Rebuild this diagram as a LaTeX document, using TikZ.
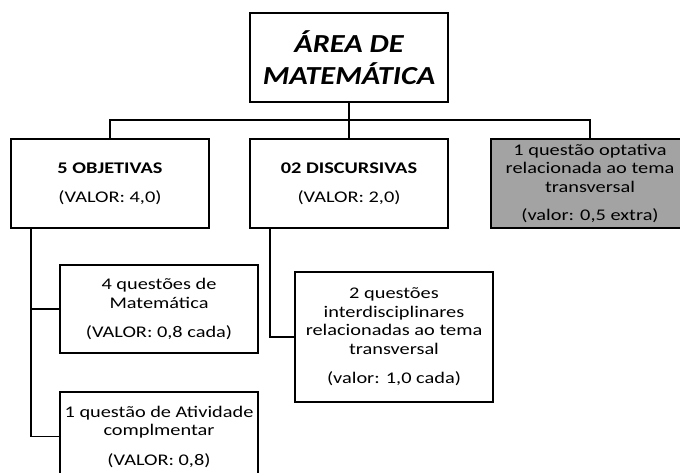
\documentclass[tikz,border=0pt]{standalone}
\usepackage{fontspec}
\setmainfont[FakeStretch=1.25]{Carlito}
\newfontfamily\titulofont[FakeStretch=1.17]{Carlito}
\begin{document}
\begin{tikzpicture}[x=0.75pt,y=-0.75pt,line width=1.4pt,
  caixa/.style={draw=black,fill=white,align=center,inner sep=2pt,
    minimum width=148.5pt,minimum height=66.75pt,
    font=\fontsize{12.2pt}{14pt}\selectfont},
  cinza/.style={caixa,fill=black!36}]
  \useasboundingbox (0,0) rectangle (680,473);
  \node [caixa,font=\titulofont\fontsize{19.5pt}{24pt}\selectfont\bfseries\itshape] (titulo) at (349,57.5) {ÁREA DE\\MATEMÁTICA};
  \node [caixa] (objetivas) at (110,183.5) {\textbf{5 OBJETIVAS}\\[8pt](VALOR: 4,0)};
  \node [caixa] (discursivas) at (349,183.5) {\textbf{02 DISCURSIVAS}\\[8pt](VALOR: 2,0)};
  \node [cinza] (optativa) at (590,183.5) {1 questão optativa\\relacionada ao tema\\transversal\\[7pt](valor: 0,5 extra)};
  \node [caixa,minimum height=66pt] (matematica) at (159,309) {4 questões de\\Matemática\\[8pt](VALOR: 0,8 cada)};
  \node [caixa,minimum height=97.5pt] (interdisc) at (394,337) {2 questões\\interdisciplinares\\relacionadas ao tema\\transversal\\[8pt](valor: 1,0 cada)};
  \node [caixa] (atividade) at (159,436.5) {1 questão de Atividade\\complmentar\\[8pt](VALOR: 0,8)};
  % ligacoes
  \coordinate (barra) at (349,120);
  \coordinate (ramo1) at (31,228);
  \coordinate (ramo2) at (270,228);
  \draw (titulo) -- (barra);
  \draw (objetivas.north) |- (barra) -| (optativa.north);
  \draw (discursivas) -- (barra);
  \draw (ramo1) |- (matematica.west);
  \draw (ramo1) |- (atividade.west);
  \draw (ramo2) |- (interdisc.west);
\end{tikzpicture}
\end{document}
